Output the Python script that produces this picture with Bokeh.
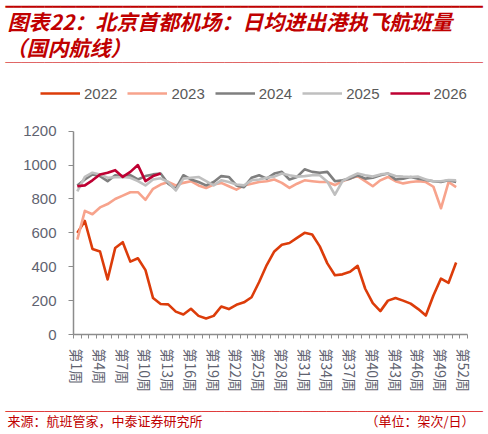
from bokeh.plotting import figure
from bokeh.models import Range1d, FixedTicker, Legend, LegendItem, Label
from bokeh.embed import file_html
from bokeh.resources import INLINE

# weekly average flights, Beijing Capital airport, domestic routes
weeks = list(range(1, 52))
weeks_2026 = list(range(1, 13))

y2022 = [600, 670, 505, 490, 325, 510, 545, 430, 450, 380,
         215, 180, 178, 135, 118, 152, 110, 95, 110, 165,
         150, 175, 190, 220, 310, 410, 490, 530, 540, 570,
         600, 590, 520, 420, 350, 355, 370, 405, 270, 185,
         138, 200, 215, 200, 182, 150, 112, 230, 330, 305, 425]
y2023 = [560, 730, 710, 750, 770, 800, 820, 840, 840, 795,
         860, 885, 900, 880, 895, 905, 880, 865, 885, 895,
         875, 855, 880, 890, 900, 905, 915, 895, 865, 890,
         910, 905, 900, 900, 882, 905, 920, 935, 905, 875,
         910, 930, 905, 892, 900, 905, 900, 872, 745, 900, 870]
y2024 = [880, 915, 945, 935, 905, 940, 935, 940, 915, 935,
         945, 950, 890, 860, 940, 915, 900, 880, 900, 935,
         930, 880, 870, 925, 940, 920, 950, 960, 915, 930,
         975, 960, 955, 960, 905, 910, 920, 940, 920, 925,
         940, 950, 915, 920, 930, 920, 912, 905, 900, 910, 900]
y2025 = [845, 930, 955, 945, 925, 928, 930, 925, 905, 880,
         915, 922, 900, 850, 920, 925, 930, 905, 880, 910,
         900, 885, 880, 910, 915, 925, 932, 950, 940, 932,
         935, 940, 940, 902, 825, 905, 930, 950, 940, 932,
         945, 950, 935, 932, 930, 932, 915, 905, 905, 912, 910]
y2026 = [875, 880, 910, 945, 955, 970, 930, 960, 1000, 905, 935, 950]

years = ["2022", "2023", "2024", "2025", "2026"]
colors = ["#DC3C0A", "#F7A38C", "#7F7F7F", "#BFBFBF", "#BE0032"]

tick_weeks = list(range(1, 53, 3))
tick_labels = {w: "第%d周" % w for w in tick_weeks}

W, H = 488, 434
RED = "#C00000"

# the frame fills the whole canvas; plot area is 73..467 px wide, 130.7..334 px tall
px_x = 394 / 52.0
px_y = 203.3 / 1200.0
x0 = 0.5 - 73 / px_x
y1 = 1200 + 130.7 / px_y
p = figure(width=W, height=H, output_backend="svg", toolbar_location=None, min_border=0,
           x_range=Range1d(x0, 52.5 + (W - 467) / px_x),
           y_range=Range1d(-(H - 334) / px_y, y1))
p.outline_line_color = None
p.xgrid.visible = False
p.ygrid.visible = False

rs = []
for xs, ys, c in zip([weeks, weeks, weeks, weeks, weeks_2026],
                     [y2022, y2023, y2024, y2025, y2026], colors):
    rs.append(p.line(xs, ys, line_color=c, line_width=2.6, line_join="round"))

# axes pinned inside the frame
p.xaxis.fixed_location = 0
p.yaxis.fixed_location = 0.5
p.xaxis.bounds = (0.5, 52.5)
p.yaxis.bounds = (0, 1200)
p.yaxis.ticker = FixedTicker(ticks=[0, 200, 400, 600, 800, 1000, 1200])
p.xaxis.ticker = FixedTicker(ticks=tick_weeks, minor_ticks=[w + 0.5 for w in range(0, 53)])
p.xaxis.major_label_overrides = tick_labels
p.xaxis.major_label_orientation = "vertical"
for ax in (p.xaxis, p.yaxis):
    ax.axis_line_color = "#8C8C8C"
    ax.axis_line_width = 1.5
    ax.major_tick_line_color = "#8C8C8C"
    ax.minor_tick_line_color = "#8C8C8C"
    ax.major_label_text_color = "#5F6370"
    ax.major_label_text_font = "Liberation Sans"
    ax.major_tick_in = 0
    ax.minor_tick_in = 0
p.yaxis.major_tick_out = 5
p.yaxis.minor_tick_out = 0
p.yaxis.major_label_standoff = 12
p.yaxis.major_label_text_font_size = "15px"
p.xaxis.major_tick_out = 0
p.xaxis.minor_tick_out = 4
p.xaxis.major_label_standoff = 10
p.xaxis.major_label_text_font_size = "14px"
p.xaxis.major_label_text_font = "Noto Sans CJK SC"

legend = Legend(items=[LegendItem(label=y, renderers=[r]) for y, r in zip(years, rs)],
                orientation="horizontal", location=(40, H - 103),
                border_line_color=None, background_fill_alpha=0, padding=0, margin=0,
                glyph_width=40, glyph_height=20, label_height=20, label_standoff=4, spacing=10,
                label_text_font_size="15px", label_text_color="#595959",
                label_text_font="Liberation Sans")
p.add_layout(legend)


def text(x, y, s, size, color, align="left", style="normal", font="Noto Sans CJK SC"):
    # y in px from the top of the picture
    p.add_layout(Label(x=x, y=H - y, x_units="screen", y_units="screen", text=s,
                       text_font=font, text_font_size=size, text_font_style=style,
                       text_color=color, text_align=align, text_baseline="middle"))


def rule(y, ch, color):
    # rule across the page drawn with box-drawing characters (labels are not clipped)
    text(5, y, ch * 61, "13px", color, font="DejaVu Sans Mono")


text(7, 20, "图表22：北京首都机场：日均进出港执飞航班量", "21px", RED, style="bold italic")
text(5, 46, "（国内航线）", "21px", RED, style="bold italic")
text(7, 420, "来源：航班管家，中泰证券研究所", "13px", RED)
text(474, 420, "（单位：架次/日）", "13px", RED, align="right")
rule(6.2, "\u2501", RED)
rule(62, "\u2500", "#E06666")
rule(411, "\u2500", "#E03C3C")

open("out.html", "w").write(file_html(p, INLINE))
